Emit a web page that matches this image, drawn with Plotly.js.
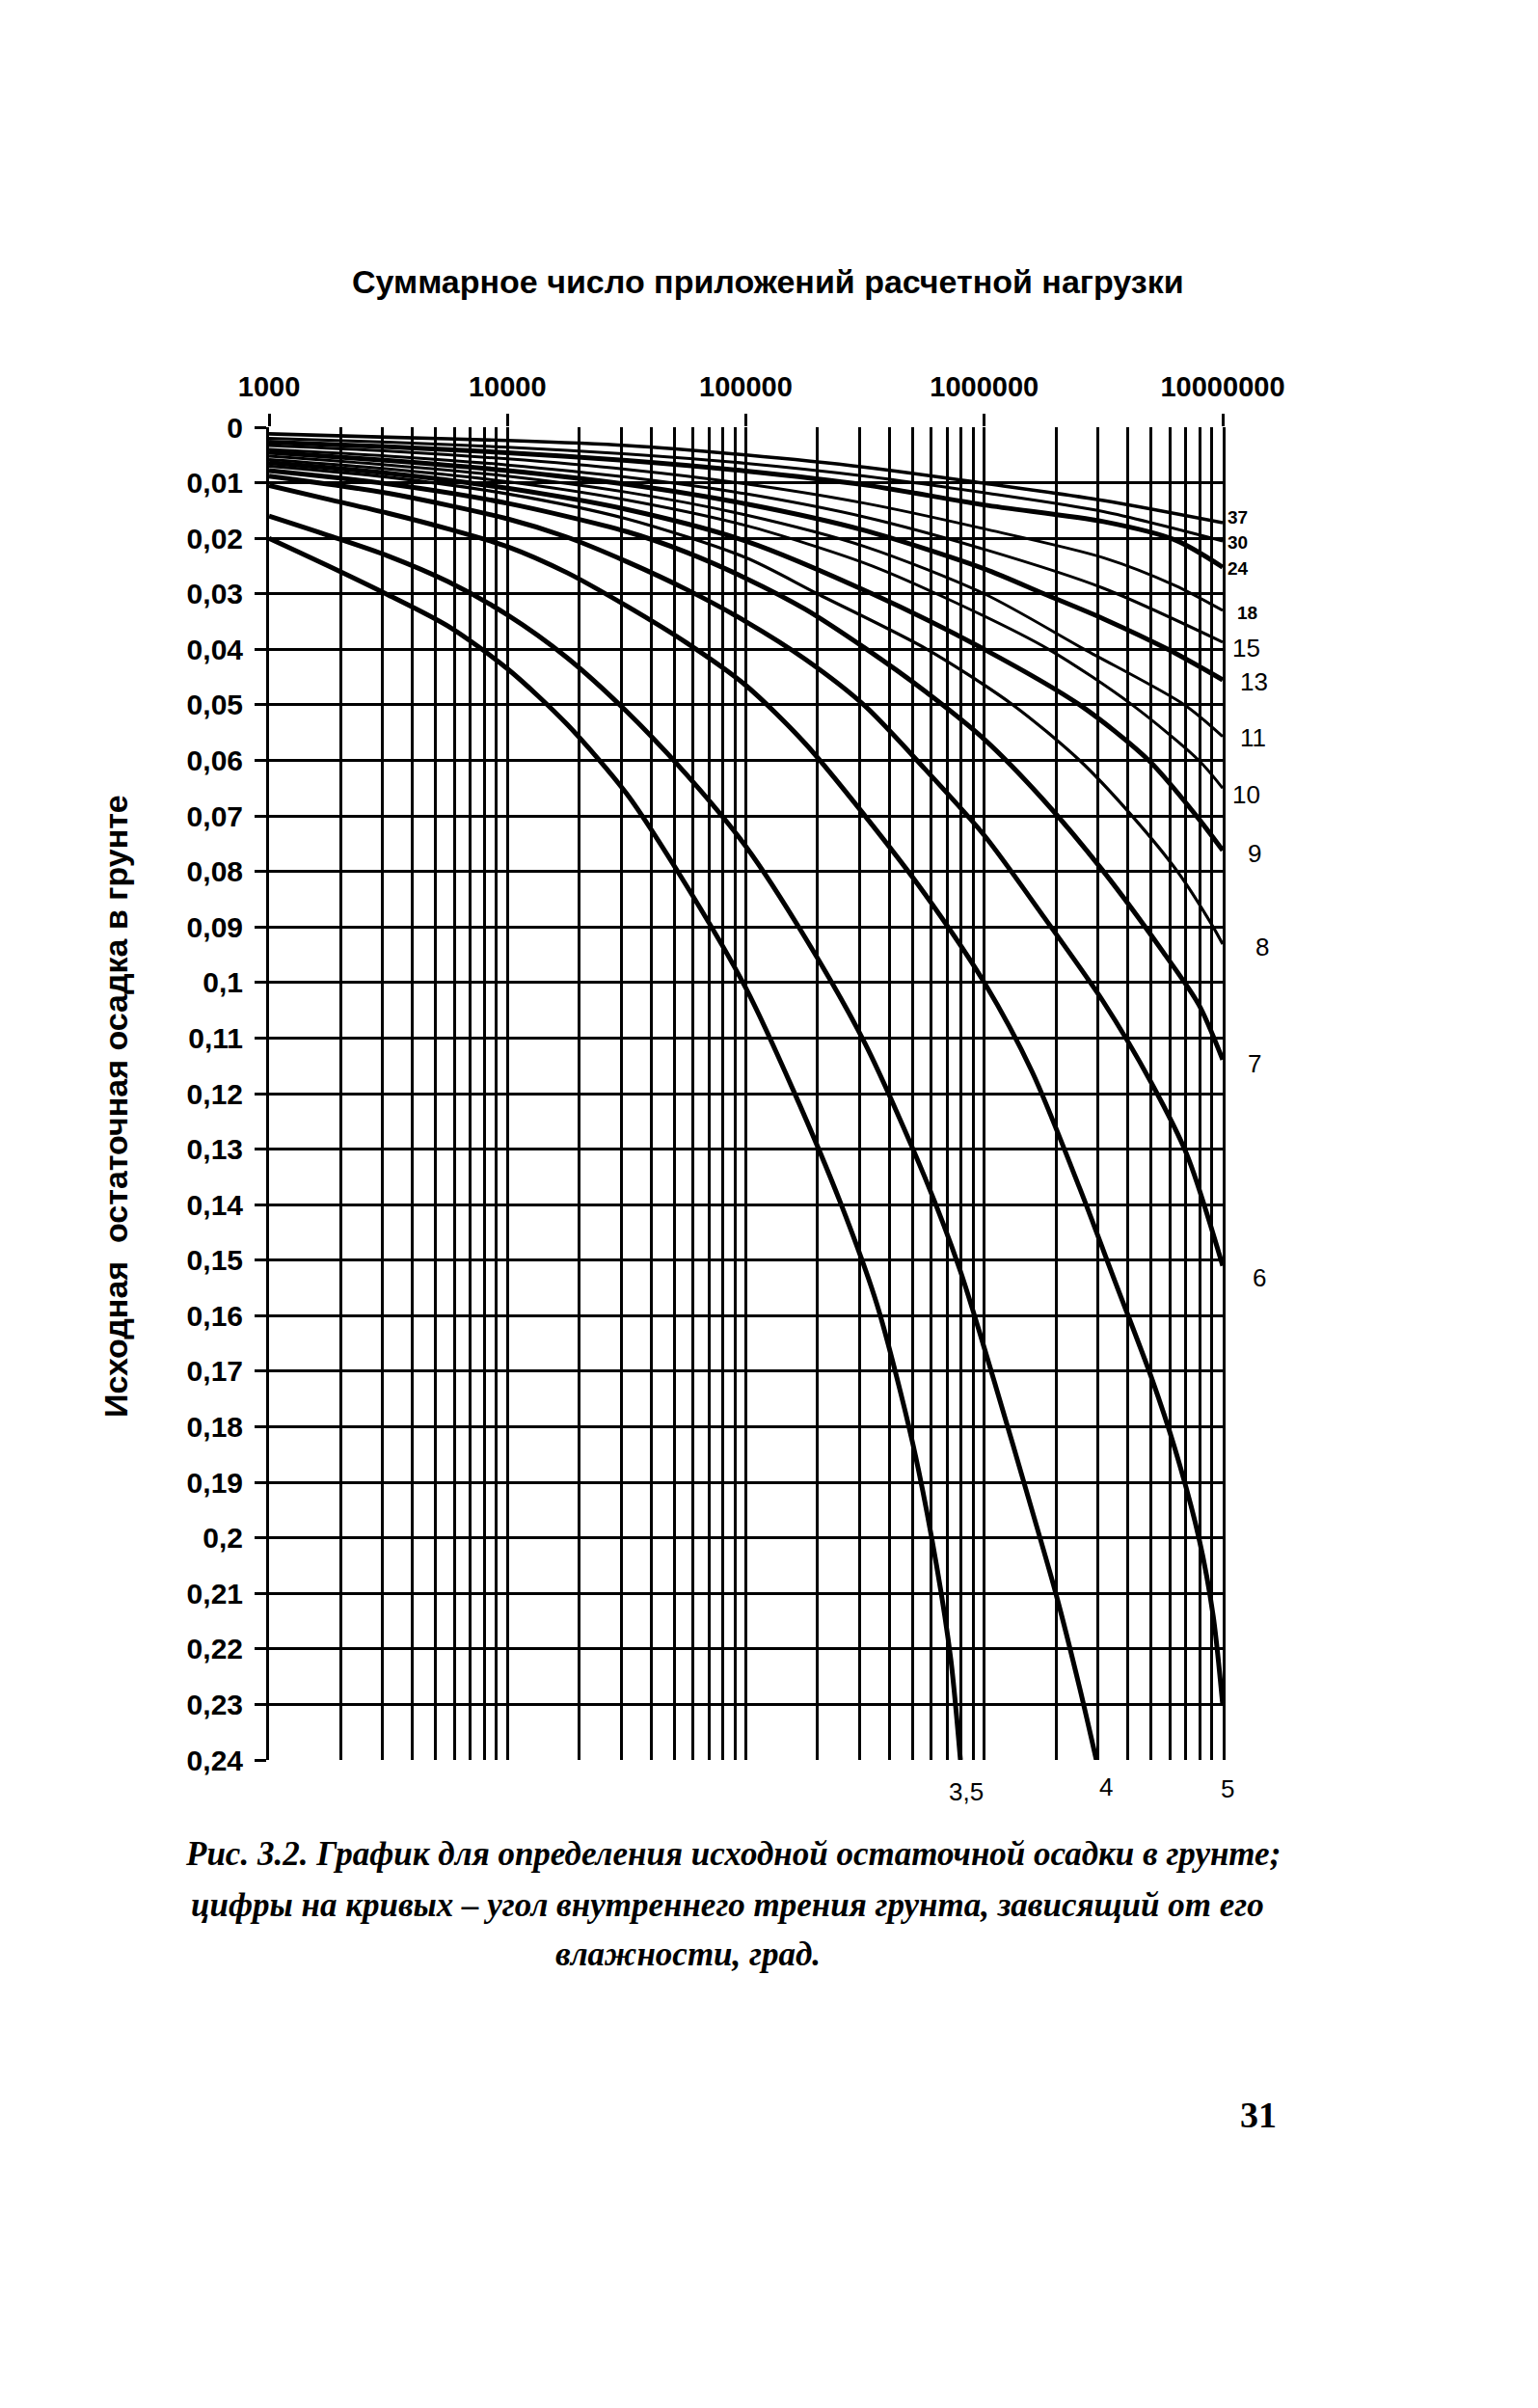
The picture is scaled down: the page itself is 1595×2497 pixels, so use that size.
<!DOCTYPE html>
<html>
<head>
<meta charset="utf-8">
<script src="https://cdn.plot.ly/plotly-3.0.1.min.js"></script>
<style>html,body{margin:0;padding:0;background:#fff;}#chart{width:1595px;height:2497px;}</style>
</head>
<body>
<div id="chart"></div>
<script>
// ---------- data ----------
// x: log10 of the total number of load applications, y: initial residual settlement
const curveNames = ['37','30','24','18','15','13','11','10','9','8','7','6','5','4','3,5'];

const lg37 = [3, 3.5, 4, 4.5, 5, 5.5, 6, 6.5, 7];
const s37  = [0.0012, 0.0018, 0.0024, 0.0033, 0.0050, 0.0072, 0.0101, 0.0132, 0.0172];

const lg30 = [3, 3.5, 4, 4.5, 5, 5.5, 6, 6.5, 7];
const s30  = [0.0020, 0.0027, 0.0036, 0.0048, 0.0065, 0.0088, 0.0118, 0.0152, 0.0205];

const lg24 = [3, 3.5, 4, 4.5, 5, 5.5, 6, 6.5, 6.8, 7];
const s24  = [0.0027, 0.0035, 0.0046, 0.0060, 0.0079, 0.0104, 0.0140, 0.0170, 0.0203, 0.0252];

const lg18 = [3, 3.5, 4, 4.5, 5, 5.5, 6, 6.5, 6.8, 7];
const s18  = [0.0033, 0.0043, 0.0057, 0.0076, 0.0102, 0.0137, 0.0183, 0.0235, 0.0285, 0.0330];

const lg15 = [3, 3.5, 4, 4.5, 5, 5.5, 6, 6.5, 7];
const s15  = [0.0040, 0.0052, 0.0068, 0.0090, 0.0120, 0.0162, 0.0220, 0.0290, 0.0387];

const lg13 = [3, 3.5, 4, 4.5, 5, 5.5, 6, 6.25, 6.5, 6.77, 7];
const s13  = [0.0045, 0.0060, 0.0078, 0.0103, 0.0138, 0.0186, 0.0255, 0.0300, 0.0345, 0.0400, 0.0455];

const lg11 = [3, 3.5, 4, 4.5, 5, 5.5, 6, 6.42, 6.84, 7];
const s11  = [0.0052, 0.0068, 0.0088, 0.0117, 0.0158, 0.0215, 0.0300, 0.0400, 0.0500, 0.0557];

const lg10 = [3, 3.5, 4, 4.5, 5, 5.5, 5.8, 6.27, 6.62, 6.9, 7];
const s10  = [0.0058, 0.0075, 0.0098, 0.0131, 0.0177, 0.0245, 0.0300, 0.0400, 0.0500, 0.0600, 0.0650];

const lg9 = [3, 3.5, 4, 4.5, 5, 5.53, 6, 6.4, 6.69, 6.89, 7];
const s9  = [0.0064, 0.0083, 0.0110, 0.0148, 0.0205, 0.0300, 0.0400, 0.0500, 0.0600, 0.0700, 0.0762];

const lg8 = [3, 3.5, 4, 4.5, 5, 5.3, 5.76, 6.12, 6.4, 6.62, 6.81, 6.96, 7];
const s8  = [0.0070, 0.0090, 0.0120, 0.0165, 0.0235, 0.0300, 0.0400, 0.0500, 0.0600, 0.0700, 0.0800, 0.0900, 0.0931];

const lg7 = [3, 3.5, 4, 4.5, 4.75, 5, 5.25, 5.5, 5.75, 6, 6.25, 6.5, 6.75, 6.9, 7];
const s7  = [0.0078, 0.0102, 0.0137, 0.0188, 0.0225, 0.0272, 0.0328, 0.0398, 0.0475, 0.0562, 0.0672, 0.0800, 0.0945, 0.1040, 0.1139];

const lg6 = [3, 3.5, 4, 4.25, 4.5, 4.75, 5, 5.25, 5.5, 5.75, 6, 6.25, 6.5, 6.7, 6.85, 7];
const s6  = [0.0088, 0.0119, 0.0165, 0.0198, 0.0242, 0.0292, 0.0350, 0.0418, 0.0502, 0.0615, 0.0735, 0.0882, 0.1035, 0.1180, 0.1310, 0.1510];

const lg5 = [3, 3.25, 3.5, 3.75, 4, 4.25, 4.5, 4.75, 5, 5.25, 5.5, 5.75, 6, 6.2, 6.4, 6.55, 6.7, 6.8, 6.9, 6.96, 7];
const s5  = [0.0105, 0.0130, 0.0155, 0.0183, 0.0215, 0.0262, 0.0322, 0.0388, 0.0465, 0.0570, 0.0700, 0.0840, 0.1000, 0.1160, 0.1370, 0.1540, 0.1710, 0.1840, 0.2000, 0.2140, 0.2300];

const lg4 = [3, 3.25, 3.5, 3.75, 4, 4.25, 4.5, 4.75, 5, 5.25, 5.5, 5.75, 5.9, 6.05, 6.2, 6.3, 6.4, 6.47];
const s4  = [0.0160, 0.0195, 0.0232, 0.0278, 0.0338, 0.0415, 0.0512, 0.0625, 0.0755, 0.0920, 0.1110, 0.1350, 0.1520, 0.1730, 0.1950, 0.2100, 0.2270, 0.2400];

const lg35 = [3, 3.25, 3.5, 3.75, 4, 4.25, 4.5, 4.75, 5, 5.2, 5.4, 5.55, 5.7, 5.8, 5.86, 5.9];
const s35  = [0.0200, 0.0250, 0.0302, 0.0358, 0.0435, 0.0535, 0.0660, 0.0825, 0.1010, 0.1195, 0.1400, 0.1580, 0.1830, 0.2050, 0.2220, 0.2400];

// axis ticks
const xMajor = [1000, 10000, 100000, 1000000, 10000000];
const xMajorText = ['1000', '10000', '100000', '1000000', '10000000'];
const xMinorFactors = [1, 2, 3, 4, 5, 6, 7, 8, 9];
const yTicks = [0, 0.01, 0.02, 0.03, 0.04, 0.05, 0.06, 0.07, 0.08, 0.09, 0.10, 0.11, 0.12,
                0.13, 0.14, 0.15, 0.16, 0.17, 0.18, 0.19, 0.20, 0.21, 0.22, 0.23, 0.24];
const yTickText = ['0','0,01','0,02','0,03','0,04','0,05','0,06','0,07','0,08','0,09','0,1','0,11','0,12',
                   '0,13','0,14','0,15','0,16','0,17','0,18','0,19','0,2','0,21','0,22','0,23','0,24'];

const titleText = 'Суммарное число приложений расчетной нагрузки';
const yTitleText = 'Исходная  остаточная осадка в грунте';
const captionLines = [
  'Рис. 3.2. График для определения исходной остаточной осадки в грунте;',
  'цифры на кривых – угол внутреннего трения грунта, зависящий от его',
  'влажности, град.'
];
const pageNumber = '31';

// ---------- build ----------
const curvesLg = [lg37, lg30, lg24, lg18, lg15, lg13, lg11, lg10, lg9, lg8, lg7, lg6, lg5, lg4, lg35];
const curvesS  = [s37, s30, s24, s18, s15, s13, s11, s10, s9, s8, s7, s6, s5, s4, s35];
const thick = {'37':3.6,'30':3,'24':5,'18':3,'15':3,'13':5,'11':3,'10':3,'9':5,'8':3.2,'7':5,'6':5,'5':5,'4':5,'3,5':5};

const traces = curvesLg.map((lg, i) => ({
  type: 'scatter', mode: 'lines',
  x: lg.map(v => Math.pow(10, v)), y: curvesS[i],
  name: curveNames[i],
  line: {color: '#000', width: thick[curveNames[i]], shape: 'spline', smoothing: 0.8},
  hoverinfo: 'skip', xaxis: 'x', yaxis: 'y'
}));
traces.push({type: 'scatter', mode: 'lines', x: [], y: [], xaxis: 'x2', yaxis: 'y2', hoverinfo: 'skip'});

const xGrid = [];
for (let e = 3; e < 7; e++) xMinorFactors.forEach(f => xGrid.push(f * Math.pow(10, e)));
xGrid.push(10000000);

const L = 279, R = 1268, T = 443, B = 1825;
const px = v => (v - L) / (R - L);
const py = v => (B - v) / (B - T);

const ann = [];
ann.push({text: titleText, xref: 'paper', yref: 'paper', x: px(796), y: py(292), showarrow: false,
  font: {family: 'Liberation Sans, Arial, sans-serif', size: 34, color: '#000', weight: 'bold'}, xanchor: 'center', yanchor: 'middle'});
ann.push({text: yTitleText, xref: 'paper', yref: 'paper', x: px(120), y: py(1147), showarrow: false, textangle: -90,
  font: {family: 'Liberation Sans, Arial, sans-serif', size: 34, color: '#000', weight: 'bold'}, xanchor: 'center', yanchor: 'middle'});
const capY = [1922, 1975, 2026];
const capX = [760, 754, 713];
captionLines.forEach((t, i) => ann.push({text: '<b><i>' + t + '</i></b>', xref: 'paper', yref: 'paper',
  x: px(capX[i]), y: py(capY[i]), showarrow: false, xanchor: 'center', yanchor: 'middle',
  font: {family: 'Liberation Serif, Times New Roman, serif', size: 35, color: '#000'}}));
ann.push({text: '<b>' + pageNumber + '</b>', xref: 'paper', yref: 'paper', x: px(1305), y: py(2193), showarrow: false,
  font: {family: 'Liberation Serif, Times New Roman, serif', size: 38, color: '#000'}, xanchor: 'center', yanchor: 'middle'});

const rightLabels = [
  ['37', 1271, 0.0162, true], ['30', 1271, 0.0208, true], ['24', 1271, 0.0254, true], ['18', 1281, 0.0334, true],
  ['15', 1276, 0.0397, false], ['13', 1284, 0.0458, false], ['11', 1284, 0.0560, false], ['10', 1276, 0.0662, false],
  ['9', 1292, 0.0767, false], ['8', 1300, 0.0936, false], ['7', 1292, 0.1147, false], ['6', 1297, 0.1532, false]
];
rightLabels.forEach(([t, x, y, b]) => ann.push({text: t, xref: 'paper', yref: 'y', x: px(x), y: y, showarrow: false,
  xanchor: 'left', yanchor: 'middle',
  font: {family: 'Liberation Sans, Arial, sans-serif', size: b ? 19 : 26, color: '#000', weight: b ? 'bold' : 'normal'}}));
const bottomLabels = [['3,5', 1002, 1858], ['4', 1147, 1853], ['5', 1273, 1855]];
bottomLabels.forEach(([t, x, y]) => ann.push({text: t, xref: 'paper', yref: 'paper', x: px(x), y: py(y), showarrow: false,
  xanchor: 'center', yanchor: 'middle', font: {family: 'Liberation Sans, Arial, sans-serif', size: 26, color: '#000'}}));

const layout = {
  width: 1595, height: 2497,
  margin: {l: L, r: 1595 - R, t: T, b: 2497 - B, pad: 0},
  paper_bgcolor: '#fff', plot_bgcolor: '#fff',
  showlegend: false,
  xaxis: {type: 'log', range: [3, 7], tickmode: 'array', tickvals: xGrid, showticklabels: false, ticks: '',
    showgrid: true, gridcolor: '#000', gridwidth: 3, zeroline: false, showline: false, fixedrange: true},
  xaxis2: {type: 'log', range: [3, 7], overlaying: 'x', side: 'top', anchor: 'y', tickmode: 'array',
    tickvals: xMajor, ticktext: xMajorText, ticks: 'outside', ticklen: 13, tickwidth: 3, tickcolor: '#000',
    showgrid: false, zeroline: false, showline: false, ticklabelstandoff: 6,
    tickfont: {family: 'Liberation Sans, Arial, sans-serif', size: 29, color: '#000', weight: 'bold'}},
  yaxis: {range: [0.24, 0], tickmode: 'array', tickvals: yTicks, ticktext: yTickText, ticks: 'outside',
    ticklen: 12, tickwidth: 3, tickcolor: '#000', showgrid: false, zeroline: false,
    showline: true, linewidth: 3, linecolor: '#000', mirror: true, ticklabelstandoff: 6,
    tickfont: {family: 'Liberation Sans, Arial, sans-serif', size: 30, color: '#000', weight: 'bold'}},
  yaxis2: {range: [0.24, 0], overlaying: 'y', anchor: 'x', side: 'left', tickmode: 'array',
    tickvals: yTicks.slice(0, -1), showticklabels: false, ticks: '', showgrid: true, gridcolor: '#000',
    gridwidth: 3, zeroline: false, showline: false},
  annotations: ann
};

Plotly.newPlot('chart', traces, layout, {staticPlot: true, displayModeBar: false});
</script>
</body>
</html>
